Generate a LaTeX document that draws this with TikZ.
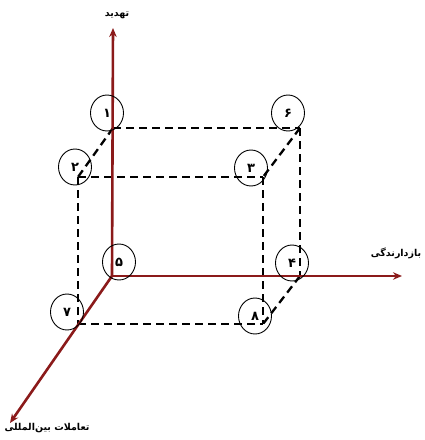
\documentclass[tikz,border=0pt]{standalone}
\usepackage{fontspec}
\newfontfamily\arabicfont[Script=Arabic]{DejaVu Sans}
\TeXXeTstate=1
\usetikzlibrary{arrows.meta,shapes.geometric}
\definecolor{axisred}{HTML}{8B1A1A}
\begin{document}
\begin{tikzpicture}[x=1pt,y=-1pt,
  axis/.style={draw=axisred, line width=2.6pt, -{Stealth[length=9pt,width=7.5pt]}},
  cubeedge/.style={draw=black, line width=2.3pt, dash pattern=on 8pt off 5pt},
  ring/.style={ellipse, draw=black, line width=0.9pt, minimum width=33pt, minimum height=36pt, inner sep=0pt,
    font=\arabicfont\bfseries\fontsize{13}{13}\selectfont},
  lbl/.style={inner sep=0pt, font=\arabicfont\bfseries\fontsize{9.5}{11}\selectfont}]
\useasboundingbox (0,0) rectangle (425,440);
% corners
\coordinate (O) at (112,276);
\coordinate (c1) at (113,128);
\coordinate (c6) at (300,128);
\coordinate (c4) at (300,276);
\coordinate (c2) at (78,177);
\coordinate (c3) at (263,177);
\coordinate (c8) at (263,324);
\coordinate (c7) at (78,324);
% axis tips
\coordinate (tz) at (113,28);
\coordinate (tx) at (402,276);
\coordinate (ty) at (10,423);
% dashed cube
\draw[cubeedge] (c1) -- (c6);
\draw[cubeedge] (c6) -- (c4);
\draw[cubeedge] (c1) -- (c2);
\draw[cubeedge] (c6) -- (c3);
\draw[cubeedge] (c2) -- (c3);
\draw[cubeedge] (c2) -- (c7);
\draw[cubeedge] (c3) -- (c8);
\draw[cubeedge] (c7) -- (c8);
\draw[cubeedge] (c4) -- (c8);
% axes
\draw[axis] (O) -- (tz);
\draw[axis] (O) -- (tx);
\draw[axis] (O) -- (ty);
% labels
\node[lbl] (lz) at (117,15) {\beginR تهدید\endR};
\node[lbl] (lx) at (396,253) {\beginR بازدارندگی\endR};
\node[lbl] (ly) at (47,428) {\beginR تعاملات بین‌المللی\endR};
% circles
\node[ring] (n1) at (107,113) {۱};
\node[ring] (n2) at (75,167) {۲};
\node[ring] (n6) at (288,113) {۶};
\node[ring] (n3) at (251,168) {۳};
\node[ring] (n5) at (119,262) {۵};
\node[ring] (n7) at (67,312) {۷};
\node[ring] (n4) at (292,263) {۴};
\node[ring] (n8) at (255,316) {۸};
\end{tikzpicture}
\end{document}
